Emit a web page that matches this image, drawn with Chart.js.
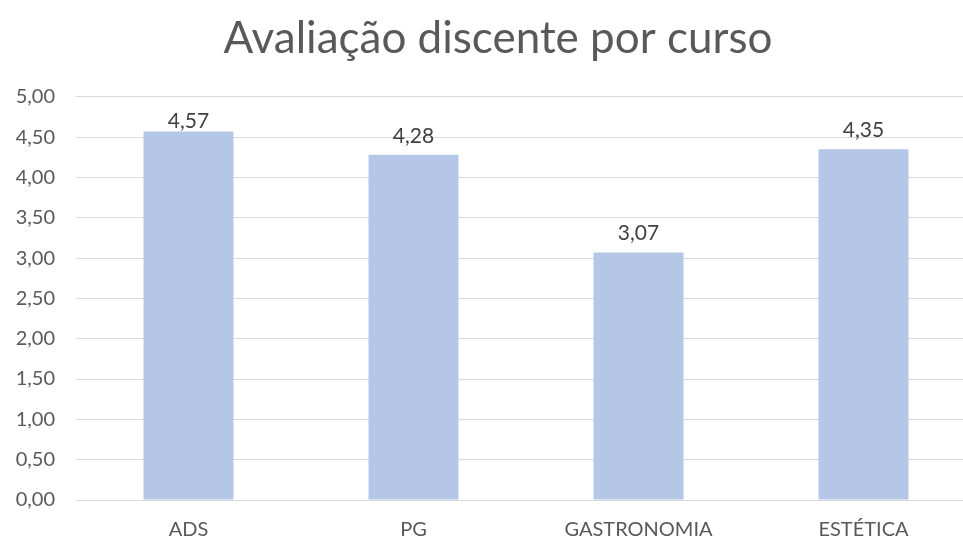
<!DOCTYPE html>
<html>
<head>
<meta charset="utf-8">
<script src="https://cdn.jsdelivr.net/npm/chart.js@4"></script>
<style>
    html, body { margin: 0; padding: 0; background: #fff; overflow: hidden; }
    #wrap { width: 996px; height: 541px; position: relative; }
</style>
</head>
<body>
<div id="wrap"><canvas id="myChart"></canvas></div>
<script>
const cursos = ["ADS", "PG", "GASTRONOMIA", "ESTÉTICA"];
const notas = [4.57, 4.28, 3.07, 4.35];
const yTicks = [0, 0.5, 1, 1.5, 2, 2.5, 3, 3.5, 4, 4.5, 5];

function virgula(v) {
    return v.toFixed(2).replace(".", ",");
}

// rótulos em cima das barras (sem sair da área do gráfico, como no Excel)
const rotulosPlugin = {
    id: "rotulos",
    afterDatasetsDraw(chart) {
        const ctx = chart.ctx;
        const meta = chart.getDatasetMeta(0);
        const topo = chart.chartArea.top;
        ctx.save();
        ctx.font = "21px Lato";
        ctx.fillStyle = "#404040";
        ctx.textAlign = "center";
        ctx.textBaseline = "alphabetic";
        meta.data.forEach((bar, i) => {
            const yTexto = Math.max(bar.y - 12, topo + 31);
            ctx.fillText(virgula(notas[i]), bar.x, yTexto);
        });
        ctx.restore();
    },
};

const ctx = document.getElementById("myChart");
new Chart(ctx, {
    type: "bar",
    data: {
        labels: cursos,
        datasets: [
            {
                label: "Avaliação",
                data: notas,
                backgroundColor: "#b4c7e7",
                categoryPercentage: 1,
                barPercentage: 0.4,
            },
        ],
    },
    options: {
        responsive: true,
        maintainAspectRatio: false,
        animation: false,
        layout: { padding: 0 },
        plugins: {
            legend: { display: false },
            tooltip: { enabled: false },
            title: {
                display: true,
                text: "Avaliação discente por curso",
                color: "#595959",
                font: { family: "Lato", size: 44, weight: "normal", lineHeight: 1.2 },
                padding: { top: 12, bottom: 32 },
            },
        },
        scales: {
            x: {
                afterFit(scale) {
                    scale.height = 41;
                },
                grid: { display: false, drawTicks: false },
                border: { display: false },
                ticks: {
                    color: "#595959",
                    font: { family: "Lato", size: 20 },
                    padding: 18,
                },
            },
            y: {
                min: 0,
                max: 5,
                afterFit(scale) {
                    scale.width = 76;
                },
                afterBuildTicks(scale) {
                    scale.ticks = yTicks.map((v) => ({ value: v }));
                },
                grid: { color: "#d9d9d9", lineWidth: 1, drawTicks: false },
                border: { display: false },
                ticks: {
                    color: "#595959",
                    font: { family: "Lato", size: 20 },
                    padding: 21,
                    callback: (v) => virgula(v),
                },
            },
            // eixo vazio só para reservar espaço à direita
            yDireita: {
                position: "right",
                afterFit(scale) {
                    scale.width = 20;
                },
                grid: { display: false, drawTicks: false },
                border: { display: false },
                ticks: { display: false },
            },
        },
    },
    plugins: [rotulosPlugin],
});
</script>
</body>
</html>
